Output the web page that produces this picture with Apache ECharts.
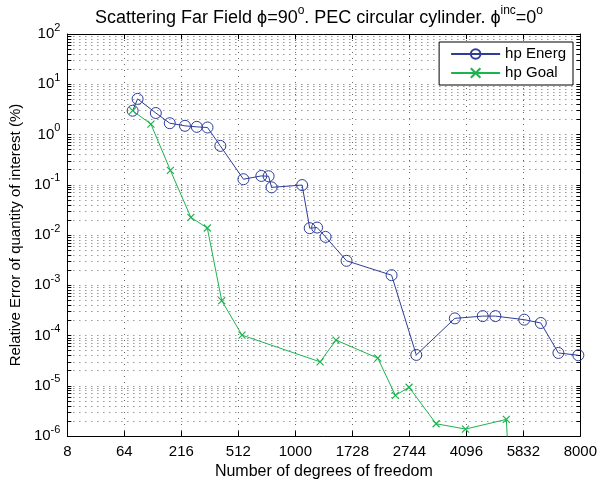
<!DOCTYPE html>
<html><head><meta charset="utf-8">
<script src="https://cdn.jsdelivr.net/npm/echarts@6/dist/echarts.min.js"></script>
<style>html,body{margin:0;padding:0;background:#fff}#c{width:600px;height:485px}</style>
</head><body><div id="c"></div>
<script>
// ---- data ----
const xTickLabels = ['8','64','216','512','1000','1728','2744','4096','5832','8000'];
const yDecades = [-6,-5,-4,-3,-2,-1,0,1,2];
const seriesNames = ['hp Energ','hp Goal'];
const energDofs = [79, 89, 133, 175, 230, 280, 331, 400, 547, 683, 744, 770, 1073, 1159, 1247, 1353, 1642, 2394, 2890, 3794, 4554, 4929, 5864, 6449, 7113, 7918];
const energErr  = [2.98, 5.12, 2.68, 1.68, 1.49, 1.42, 1.38, 0.594, 0.129, 0.150, 0.148, 0.0889, 0.0987, 0.0137, 0.0141, 0.00918, 0.00307, 0.00159, 4.12e-5, 2.20e-4, 2.44e-4, 2.44e-4, 2.07e-4, 1.78e-4, 4.51e-5, 4.06e-5];
const goalDofs  = [79, 120, 177, 254, 330, 408, 537, 1284, 1492, 2144, 2466, 2738, 3335, 4074, 5272, 5832];
const goalErr   = [2.98, 1.61, 0.194, 0.0225, 0.0138, 4.96e-4, 1.02e-4, 3.0e-5, 8.13e-5, 3.55e-5, 6.45e-6, 9.38e-6, 1.76e-6, 1.38e-6, 2.15e-6, 1e-12];

// ---- styling ----
const FONT = '"Liberation Sans", Arial, Helvetica, sans-serif';
const BLUE = '#2e3d9a', GREEN = '#1db34f';
const GRIDLINE = {color:'#666', width:1, type:[1,5]};

const majorVals = yDecades.map(e => Math.pow(10, e));
const tickVals = [];
yDecades.forEach(e => {
  if (e < 2) { for (let m = 1; m < 10; m++) tickVals.push(+(m * Math.pow(10, e)).toPrecision(3)); }
  else tickVals.push(Math.pow(10, e));
});

const yLabelFmt = v => '{b|10}{s|' + Math.round(Math.log10(v)) + '}';
const yRich = {
  b: {fontSize:15, fontFamily:FONT, color:'#000', lineHeight:24, verticalAlign:'middle'},
  s: {fontSize:11, fontFamily:FONT, color:'#000', lineHeight:24, verticalAlign:'top'}
};

const chart = echarts.init(document.getElementById('c'), null, {renderer:'canvas'});
const xAxisBase = {
  type:'value', min:2, max:20, interval:2,
  axisLine:{show:true, onZero:false, lineStyle:{color:'#000', width:1}},
  axisTick:{show:true, inside:true, length:5, lineStyle:{color:'#000'}},
};
const yAxisBase = {
  type:'log', logBase:10, min:1e-6, max:100,
  axisLine:{show:true, onZero:false, lineStyle:{color:'#000', width:1}},
  axisTick:{show:true, inside:true, length:4, customValues: tickVals, lineStyle:{color:'#000'}},
};

chart.setOption({
  animation:false,
  backgroundColor:'#fff',
  title:{
    text:'Scattering Far Field ϕ=90{s|o}. PEC circular cylinder. ϕ{s|inc}=0{s|o}',
    left:314, textAlign:'center', top:0,
    textStyle:{fontSize:18, fontWeight:'normal', fontFamily:FONT, color:'#000', lineHeight:27,
      rich:{ s:{fontSize:12, fontFamily:FONT, color:'#000', lineHeight:27, verticalAlign:'top'} }}
  },
  grid:{left:67, right:18, top:34, bottom:44, containLabel:false},
  legend:{
    data:seriesNames, orient:'vertical', right:27, top:42,
    padding:[4,7,4,11], itemGap:3, itemWidth:49, itemHeight:12,
    backgroundColor:'#fff', borderColor:'#000', borderWidth:1, borderRadius:0,
    textStyle:{fontSize:15, fontFamily:FONT, color:'#000', lineHeight:16}
  },
  xAxis:[
    Object.assign({}, xAxisBase, {
      position:'bottom',
      name:'Number of degrees of freedom', nameLocation:'middle', nameGap:24,
      nameTextStyle:{fontSize:16, fontFamily:FONT, color:'#000'},
      axisLabel:{show:true, margin:8, fontSize:15, fontFamily:FONT, color:'#000',
        formatter: v => xTickLabels[Math.round((v - 2) / 2)]},
      splitLine:{show:true, lineStyle:GRIDLINE}
    }),
    Object.assign({}, xAxisBase, {position:'top', axisLabel:{show:false}, splitLine:{show:false}})
  ],
  yAxis:[
    Object.assign({}, yAxisBase, {
      position:'left',
      name:'Relative Error of quantity of interest (%)', nameLocation:'middle', nameGap:40,
      nameTextStyle:{fontSize:15, fontFamily:FONT, color:'#000'},
      axisLabel:{show:true, margin:7, customValues: majorVals, formatter:yLabelFmt, rich:yRich},
      splitLine:{show:true, lineStyle:GRIDLINE}
    }),
    Object.assign({}, yAxisBase, {position:'right', axisLabel:{show:false}, splitLine:{show:false}})
  ],
  series:[
    {
      name:seriesNames[0], type:'line', xAxisIndex:0, yAxisIndex:0,
      data: energDofs.map((d, i) => [Math.cbrt(d), energErr[i]]),
      symbol:'circle', symbolSize:11, showAllSymbol:true,
      itemStyle:{color:'rgba(255,255,255,0)', borderColor:BLUE, borderWidth:1},
      lineStyle:{color:BLUE, width:1}, z:3
    },
    {
      name:seriesNames[1], type:'line', xAxisIndex:0, yAxisIndex:0,
      data: goalDofs.map((d, i) => [Math.cbrt(d), goalErr[i]]),
      symbol:'path://M0 0L10 10M10 0L0 10', symbolSize:7, showAllSymbol:true,
      itemStyle:{color:GREEN, borderColor:GREEN, borderWidth:1.2},
      lineStyle:{color:GREEN, width:1}, z:4
    }
  ]
});
</script>
</body></html>
